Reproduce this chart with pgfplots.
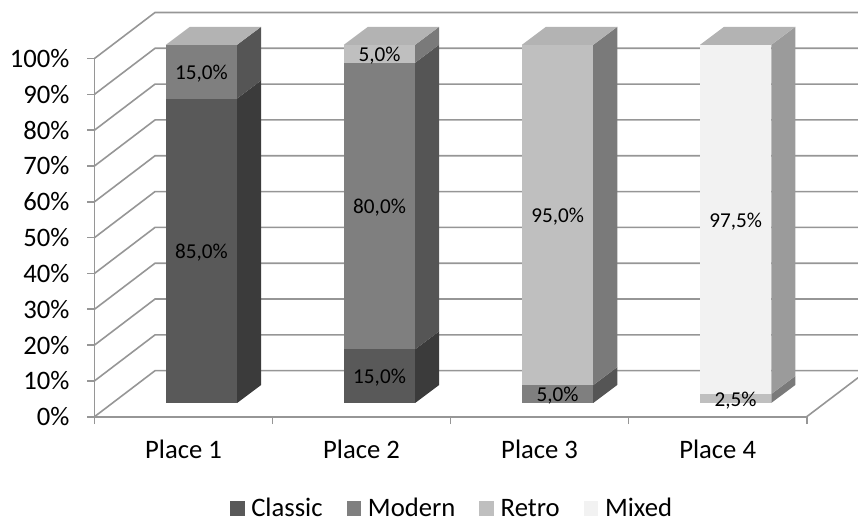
\documentclass[border=0pt]{standalone}
\usepackage{pgfplots}
\pgfplotsset{compat=1.18}
\usepackage{fontspec}
\setmainfont{Carlito}

\definecolor{gridgrey}{HTML}{969696}
\definecolor{classicF}{HTML}{595959}
\definecolor{classicS}{HTML}{3B3B3B}
\definecolor{modernF}{HTML}{7F7F7F}
\definecolor{modernS}{HTML}{555555}
\definecolor{retroF}{HTML}{BFBFBF}
\definecolor{retroS}{HTML}{7A7A7A}
\definecolor{mixedF}{HTML}{F2F2F2}
\definecolor{mixedS}{HTML}{9B9B9B}
\definecolor{topgrey}{HTML}{B3B3B3}

% One stacked segment of a 3D column: place, lower value, upper value, front and side colours.
\newcommand{\segment}[5]{%
  \pgfmathsetmacro\xl{#1+0.101-0.2}%
  \pgfmathsetmacro\xr{#1+0.101+0.2}%
  \pgfmathsetmacro\xb{\xr+0.135}%
  \pgfmathsetmacro\xc{#1+0.101}%
  \pgfmathsetmacro\yl{#2+3.83}%
  \pgfmathsetmacro\yh{#2+#3+3.83}%
  \pgfmathsetmacro\ylb{\yl+5.03}%
  \pgfmathsetmacro\yhb{\yh+5.03}%
  \pgfmathsetmacro\ym{(\yl+\yh)/2}%
  \addplot[forget plot,draw=none,fill=#4] coordinates {(\xl,\yl) (\xr,\yl) (\xr,\yh) (\xl,\yh)};
  \addplot[forget plot,draw=none,fill=#5] coordinates {(\xr,\yl) (\xb,\ylb) (\xb,\yhb) (\xr,\yh)};
  \addplot[forget plot,draw=none,mark=none,point meta=explicit,nodes near coords={\pgfmathprintnumber[fixed,fixed zerofill,precision=1,use comma]{\pgfplotspointmeta}\%},
    every node near coord/.style={anchor=center,inner sep=0pt,yshift=-1.5pt,text=black,font=\fontsize{15.9}{18}\selectfont}]
    coordinates {(\xc,\ym) [#3]};
}
% Top face of a column, which ends at 100 %.
\newcommand{\topface}[2]{%
  \pgfmathsetmacro\xl{#1+0.101-0.2}%
  \pgfmathsetmacro\xr{#1+0.101+0.2}%
  \pgfmathsetmacro\xlb{\xl+0.135}%
  \pgfmathsetmacro\xb{\xr+0.135}%
  \addplot[forget plot,draw=none,fill=#2] coordinates {(\xl,103.83) (\xr,103.83) (\xb,108.86) (\xlb,108.86)};
}

\begin{document}
\begin{tikzpicture}
\path[use as bounding box] (0pt,0pt) rectangle (643.5pt,391.5pt);
\begin{axis}[
  at={(70.875pt,78.975pt)}, anchor=south west,
  scale only axis, width=534.15pt, height=268.65pt,
  xmin=-0.5, xmax=3.5, ymin=0, ymax=100,
  clip=false,
  axis x line=bottom, axis y line=left,
  axis line style={-,draw=gridgrey,line width=1.2pt},
  tick align=outside,
  xtick={0,1,2,3}, xticklabels={Place 1,Place 2,Place 3,Place 4},
  minor xtick={-0.5,0.5,1.5,2.5,3.5},
  ytick={0,10,...,100},
  yticklabel={\pgfmathprintnumber{\tick}\%},
  /pgf/number format/assume math mode=true,
  major x tick style={draw=none},
  minor x tick style={draw=gridgrey,line width=1.2pt},
  y tick style={draw=gridgrey,line width=1.2pt},
  major tick length=5.6pt, minor tick length=5.6pt,
  tick label style={font=\fontsize{20}{23}\selectfont,text=black},
  xticklabel style={yshift=-8pt},
  yticklabel style={xshift=-9.7pt},
  legend columns=4,
  legend style={at={(0.5006,-0.257)},anchor=center,draw=none,fill=none,
    font=\fontsize{20}{23}\selectfont,
    /tikz/every even column/.append style={column sep=18pt},
    /tikz/every odd column/.append style={column sep=5pt},
    nodes={inner sep=0pt,text height=10pt,text depth=0pt}},
  legend image code/.code={\fill[#1,draw=none] (0pt,-5pt) rectangle (11pt,6pt);},
]
% Side wall and back wall grid, floor edge at the right
\pgfplotsinvokeforeach{0,10,...,100}{
  \pgfmathsetmacro\yb{#1+12.85}
  \addplot[forget plot,draw=gridgrey,line width=1.2pt,mark=none] coordinates {(-0.5,#1) (-0.16,\yb) (3.789,\yb)};
}
\addplot[forget plot,draw=gridgrey,line width=1.2pt,mark=none] coordinates {(3.5,0) (3.789,10.9)};

% Place 1
\segment{0}{0}{85}{classicF}{classicS}
\segment{0}{85}{15}{modernF}{modernS}
\topface{0}{topgrey}
% Place 2
\segment{1}{0}{15}{classicF}{classicS}
\segment{1}{15}{80}{modernF}{modernS}
\segment{1}{95}{5}{retroF}{retroS}
\topface{1}{topgrey}
% Place 3
\segment{2}{0}{5}{modernF}{modernS}
\segment{2}{5}{95}{retroF}{retroS}
\topface{2}{topgrey}
% Place 4
\segment{3}{0}{2.5}{retroF}{retroS}
\segment{3}{2.5}{97.5}{mixedF}{mixedS}
\topface{3}{topgrey}

\addlegendimage{fill=classicF}\addlegendentry{Classic}
\addlegendimage{fill=modernF}\addlegendentry{Modern}
\addlegendimage{fill=retroF}\addlegendentry{Retro}
\addlegendimage{fill=mixedF}\addlegendentry{Mixed}
\end{axis}
\end{tikzpicture}
\end{document}
